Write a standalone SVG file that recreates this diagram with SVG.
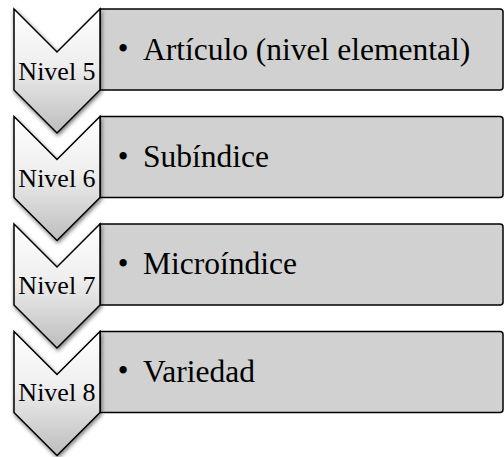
<svg xmlns="http://www.w3.org/2000/svg" width="504" height="457" viewBox="0 0 504 457">
<defs>
<linearGradient id="chevGrad" x1="0" y1="0" x2="0" y2="1">
<stop offset="0" stop-color="#ffffff"/>
<stop offset="0.45" stop-color="#eeeeee"/>
<stop offset="1" stop-color="#bdbdbd"/>
</linearGradient>
<filter id="shadow" x="-20%" y="-20%" width="140%" height="140%">
<feGaussianBlur in="SourceAlpha" stdDeviation="2.2"/>
<feOffset dx="1" dy="1.5" result="b"/>
<feComponentTransfer><feFuncA type="linear" slope="0.55"/></feComponentTransfer>
<feMerge><feMergeNode/><feMergeNode in="SourceGraphic"/></feMerge>
</filter>
</defs>
<style>
.box{fill:#d1d1d1;stroke:#000;stroke-width:1.5;}
.chev{fill:url(#chevGrad);stroke:#000;stroke-width:1.5;stroke-linejoin:miter;}
.lvl{font-family:"Liberation Serif","Times New Roman",serif;font-size:26px;fill:#000;text-anchor:middle;}
.item{font-family:"Liberation Serif","Times New Roman",serif;font-size:31.5px;fill:#000;}
.bul{font-family:"Liberation Serif","Times New Roman",serif;font-size:30.5px;fill:#000;text-anchor:middle;}
</style>
<g id="connectors"></g>
<g id="node5">
<path class="box" d="M100,9 H500 Q503,9 503,12 V87 Q503,90 500,90 H100 Z"/>
<text class="bul" x="123" y="59">•</text>
<text class="item" x="143" y="59.5">Artículo (nivel elemental)</text>
<path class="chev" filter="url(#shadow)" d="M14,9 L57,52 L100,9 L100,90 L57,133 L14,90 Z"/>
<text class="lvl" x="57" y="79.5">Nivel 5</text>
</g>
<g id="node6">
<path class="box" d="M100,116.5 H500 Q503,116.5 503,119.5 V194.5 Q503,197.5 500,197.5 H100 Z"/>
<text class="bul" x="123" y="166.5">•</text>
<text class="item" x="143" y="167">Subíndice</text>
<path class="chev" filter="url(#shadow)" d="M14,116.5 L57,159.5 L100,116.5 L100,197.5 L57,240.5 L14,197.5 Z"/>
<text class="lvl" x="57" y="186.5">Nivel 6</text>
</g>
<g id="node7">
<path class="box" d="M100,224 H500 Q503,224 503,227 V302 Q503,305 500,305 H100 Z"/>
<text class="bul" x="123" y="273.5">•</text>
<text class="item" x="143" y="274">Microíndice</text>
<path class="chev" filter="url(#shadow)" d="M14,224 L57,267 L100,224 L100,305 L57,348 L14,305 Z"/>
<text class="lvl" x="57" y="293.5">Nivel 7</text>
</g>
<g id="node8">
<path class="box" d="M100,331.5 H500 Q503,331.5 503,334.5 V409.5 Q503,412.5 500,412.5 H100 Z"/>
<text class="bul" x="123" y="381">•</text>
<text class="item" x="143" y="381.5">Variedad</text>
<path class="chev" filter="url(#shadow)" d="M14,331.5 L57,374.5 L100,331.5 L100,412.5 L57,455.5 L14,412.5 Z"/>
<text class="lvl" x="57" y="401">Nivel 8</text>
</g>
</svg>
